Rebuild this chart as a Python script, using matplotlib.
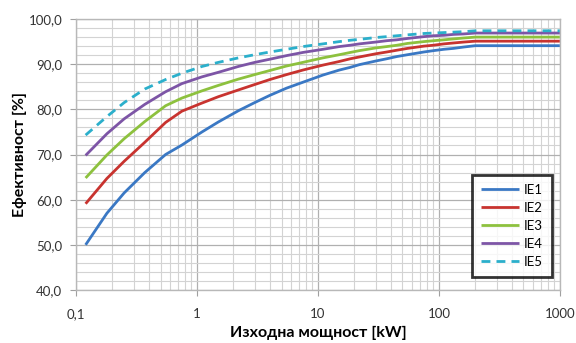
import matplotlib
matplotlib.use("Agg")
import matplotlib.pyplot as plt
from matplotlib.ticker import FixedLocator, MultipleLocator, FuncFormatter, LogLocator, NullFormatter

power_kw = [0.12, 0.18, 0.25, 0.37, 0.55, 0.75, 1.1, 1.5, 2.2, 3, 4, 5.5, 7.5, 11, 15,
            18.5, 22, 30, 37, 45, 55, 75, 90, 110, 132, 160, 200, 1000]
ie1 = [50.0, 57.0, 61.5, 66.0, 70.0, 72.1, 75.0, 77.2, 79.7, 81.5, 83.1, 84.7, 86.0, 87.6, 88.7,
       89.3, 89.9, 90.7, 91.2, 91.7, 92.1, 92.7, 93.0, 93.3, 93.5, 93.8, 94.1, 94.1]
ie2 = [59.1, 64.7, 68.5, 72.7, 77.1, 79.6, 81.4, 82.8, 84.3, 85.5, 86.6, 87.7, 88.7, 89.8, 90.6,
       91.2, 91.6, 92.3, 92.7, 93.1, 93.5, 94.0, 94.2, 94.5, 94.7, 94.9, 95.1, 95.1]
ie3 = [64.8, 69.9, 73.5, 77.3, 80.8, 82.5, 84.1, 85.3, 86.7, 87.7, 88.6, 89.6, 90.4, 91.4, 92.1,
       92.6, 93.0, 93.6, 93.9, 94.2, 94.6, 95.0, 95.2, 95.4, 95.6, 95.8, 96.0, 96.0]
ie4 = [69.8, 74.6, 77.9, 81.1, 83.9, 85.7, 87.2, 88.2, 89.5, 90.4, 91.1, 91.9, 92.6, 93.3, 93.9,
       94.2, 94.5, 94.9, 95.2, 95.4, 95.7, 96.1, 96.3, 96.4, 96.6, 96.7, 96.9, 96.9]
ie5 = [74.3, 78.4, 81.5, 84.5, 86.6, 88.0, 89.5, 90.4, 91.4, 92.1, 92.7, 93.3, 93.9, 94.5, 95.0,
       95.3, 95.5, 95.9, 96.1, 96.3, 96.5, 96.8, 96.9, 97.0, 97.1, 97.2, 97.4, 97.4]

series_names = ["IE1", "IE2", "IE3", "IE4", "IE5"]
x_ticks = [0.1, 1, 10, 100, 1000]
x_tick_labels = ["0,1", "1", "10", "100", "1000"]
y_ticks = [40, 50, 60, 70, 80, 90, 100]

colors = ["#3A78C4", "#C8332F", "#8DC13E", "#7D55A6", "#2BAFCB"]
styles = ["-", "-", "-", "-", (0, (3.2, 2.2))]

plt.rcParams['font.family'] = ['Lato', 'DejaVu Sans']

fig = plt.figure(figsize=(5.76, 3.43), dpi=100)
ax = fig.add_axes([0.132, 0.1545, 0.840, 0.790])

for name, vals, c, ls in zip(series_names, [ie1, ie2, ie3, ie4, ie5], colors, styles):
    ax.plot(power_kw, vals, color=c, lw=2.0, ls=ls, label=name, solid_capstyle='butt')

ax.set_xscale('log')
ax.set_xlim(0.1, 1000)
ax.set_ylim(40, 100)
ax.xaxis.set_major_locator(FixedLocator(x_ticks))
ax.set_xticklabels(x_tick_labels)
ax.xaxis.set_minor_locator(LogLocator(base=10, subs=range(2, 10), numticks=20))
ax.xaxis.set_minor_formatter(NullFormatter())
ax.yaxis.set_major_locator(FixedLocator(y_ticks))
ax.yaxis.set_major_formatter(FuncFormatter(lambda v, p: f"{v:.1f}".replace('.', ',')))
ax.yaxis.set_minor_locator(MultipleLocator(2))

ax.grid(which='major', color='#B0B0B0', lw=0.9)
ax.grid(which='minor', color='#D3D3D3', lw=0.8)
ax.set_axisbelow(True)
for s in ax.spines.values():
    s.set_color('#B8B8B8')
    s.set_linewidth(1.0)
ax.tick_params(which='major', length=4, color='#A0A0A0', labelsize=9.5, labelcolor='#333333', pad=6)
ax.tick_params(which='minor', length=0)
ax.tick_params(axis='x', pad=9)

ax.set_xlabel("Изходна мощност [kW]", fontsize=11.5, fontweight='bold', labelpad=4)
ax.set_ylabel("Ефективност [%]", fontsize=11.5, fontweight='bold', labelpad=1)

leg = ax.legend(loc='lower right', bbox_to_anchor=(0.983, 0.048), fontsize=9.5, frameon=True,
                fancybox=False, edgecolor='black', handlelength=2.9, handletextpad=0.3,
                labelspacing=0.45, borderpad=0.7, borderaxespad=0.0)
leg.get_frame().set_linewidth(2.0)

fig.savefig("out.png", dpi=100)
